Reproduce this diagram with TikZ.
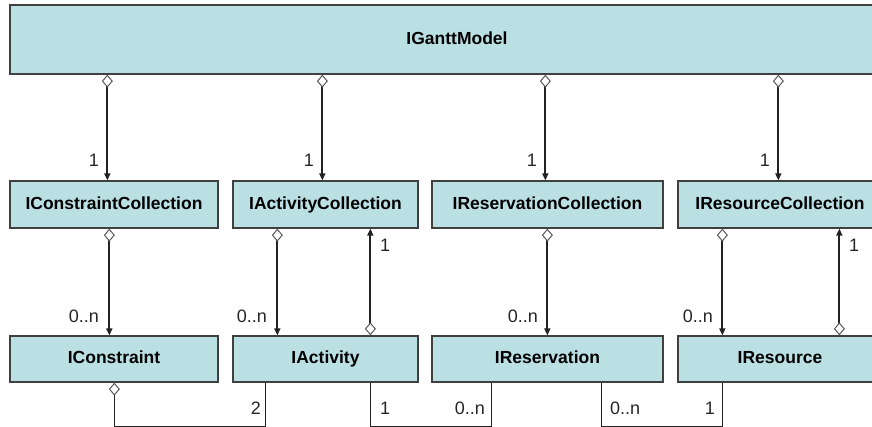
\documentclass[tikz,border=0pt]{standalone}
\usepackage{fontspec}
\setmainfont{Liberation Sans}
\usetikzlibrary{arrows.meta,calc}
\definecolor{boxfill}{RGB}{187,224,227}
\definecolor{boxline}{RGB}{64,64,64}
\definecolor{wire}{RGB}{34,34,34}
\definecolor{diam}{RGB}{90,90,90}
\tikzset{
  umlbox/.style={draw=boxline, fill=boxfill, line width=1.3pt, inner sep=0pt,
    text height=13pt, text depth=3.5pt,
    font=\fontsize{17.5}{20}\selectfont\bfseries, text=black},
  rowA/.style={umlbox, minimum height=47pt},
  rowB/.style={umlbox, minimum height=46pt},
  mult/.style={font=\fontsize{18}{20}\selectfont, text=black!85, inner sep=0pt},
  agg/.style={draw=wire, line width=1.8pt,
    {Diamond[fill=white, color=diam, line width=1pt, length=13pt, width=11pt]}-{Triangle[length=7pt, width=6pt]}},
  link/.style={draw=wire, line width=1pt},
  linkagg/.style={link, {Diamond[fill=white, color=diam, line width=1pt, length=13pt, width=11pt]}-}
}
\begin{document}
\begin{tikzpicture}[x=1pt, y=-1pt]
\useasboundingbox (0,0) rectangle (872,427);
\fill[white] (0,0) rectangle (872,427);
% boxes
\node[umlbox, minimum width=894pt, minimum height=69pt] (top) at (457,39.5) {IGanttModel};
\node[rowA, minimum width=208pt] (cc) at (114,204.5) {IConstraintCollection};
\node[rowA, minimum width=185pt] (ac) at (325.5,204.5) {IActivityCollection};
\node[rowA, minimum width=231pt] (rc) at (547.5,204.5) {IReservationCollection};
\node[rowA, minimum width=204pt] (sc) at (780,204.5) {IResourceCollection};
\node[rowB, minimum width=208pt] (c) at (114,359) {IConstraint};
\node[rowB, minimum width=185pt] (a) at (325.5,359) {IActivity};
\node[rowB, minimum width=231pt] (r) at (547.5,359) {IReservation};
\node[rowB, minimum width=204pt] (s) at (780,359) {IResource};
% top aggregations
\draw[agg] ($(top.south west)+(98,0)$) -- ($(cc.north west)+(98,0)$);
\draw[agg] ($(top.south west)+(313,0)$) -- ($(ac.north west)+(90,0)$);
\draw[agg] ($(top.south west)+(536,0)$) -- ($(rc.north west)+(114,0)$);
\draw[agg] ($(top.south west)+(769,0)$) -- ($(sc.north west)+(101,0)$);
% collection to item
\draw[agg] ($(cc.south west)+(100,0)$) -- ($(c.north west)+(100,0)$);
\draw[agg] ($(ac.south west)+(45,0)$) -- ($(a.north west)+(45,0)$);
\draw[agg] ($(a.north west)+(138,0)$) -- ($(ac.south west)+(138,0)$);
\draw[agg] ($(rc.south west)+(116,0)$) -- ($(r.north west)+(116,0)$);
\draw[agg] ($(sc.south west)+(45,0)$) -- ($(s.north west)+(45,0)$);
\draw[agg] ($(s.north west)+(162,0)$) -- ($(sc.south west)+(162,0)$);
% bottom links
\draw[linkagg] ($(c.south west)+(105,0)$) |- ($(a.south west)+(33,43.5)$) -- ($(a.south west)+(33,0)$);
\draw[link] ($(a.south west)+(138,0)$) |- ($(r.south west)+(60,43.5)$) -- ($(r.south west)+(60,0)$);
\draw[link] ($(r.south west)+(170,0)$) |- ($(s.south west)+(45,43.5)$) -- ($(s.south west)+(45,0)$);
% multiplicities
\node[mult, anchor=east] (m1) at (99,160) {1};
\node[mult, anchor=east] (m2) at (314,160) {1};
\node[mult, anchor=east] (m3) at (537,160) {1};
\node[mult, anchor=east] (m4) at (770,160) {1};
\node[mult, anchor=east] (m5) at (99,316) {0..n};
\node[mult, anchor=east] (m6) at (267,316) {0..n};
\node[mult, anchor=west] (m7) at (380,245) {1};
\node[mult, anchor=east] (m8) at (538,316) {0..n};
\node[mult, anchor=east] (m9) at (713,316) {0..n};
\node[mult, anchor=west] (m10) at (849,245) {1};
\node[mult, anchor=east] (m11) at (261,408) {2};
\node[mult, anchor=west] (m12) at (380,408) {1};
\node[mult, anchor=east] (m13) at (485,408) {0..n};
\node[mult, anchor=west] (m14) at (610,408) {0..n};
\node[mult, anchor=east] (m15) at (715,408) {1};
\end{tikzpicture}
\end{document}
